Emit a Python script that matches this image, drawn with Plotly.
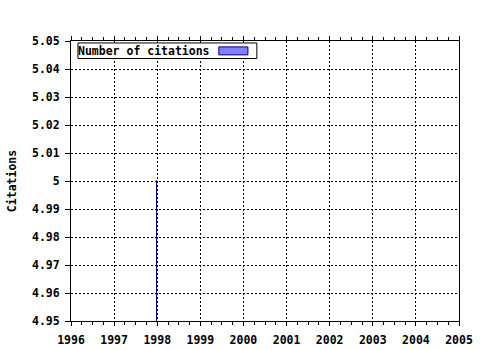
import plotly.graph_objects as go

years = [1998]
citations = [5]
x_ticks = [1996, 1997, 1998, 1999, 2000, 2001, 2002, 2003, 2004, 2005]
y_ticks = [4.95, 4.96, 4.97, 4.98, 4.99, 5.0, 5.01, 5.02, 5.03, 5.04, 5.05]
y_labels = ["4.95", "4.96", "4.97", "4.98", "4.99", "5", "5.01", "5.02", "5.03", "5.04", "5.05"]
series_name = "Number of citations"

FONT = dict(family="DejaVu Sans Mono", size=11.5, color="black", weight="bold")

fig = go.Figure()
fig.add_trace(go.Bar(
    x=years, y=citations, width=0.001, name=series_name,
    marker=dict(color="#000080", line=dict(color="#000080", width=1)),
    showlegend=False,
))

fig.update_layout(
    width=480, height=350,
    margin=dict(l=71, r=21, t=41, b=29, autoexpand=False),
    paper_bgcolor="white", plot_bgcolor="white",
    font=FONT,
    xaxis=dict(
        range=[1996, 2005], tickvals=x_ticks, ticktext=[str(v) for v in x_ticks],
        showline=True, linecolor="black", linewidth=1, mirror="ticks",
        ticks="outside", ticklen=4, tickcolor="black", ticklabelstandoff=4,
        showgrid=True, gridcolor="black", griddash="2px,2px", gridwidth=1,
        minor=dict(dtick=0.25, ticks="outside", ticklen=3, tickcolor="black", showgrid=False),
        zeroline=False, tickfont=FONT, automargin=False,
    ),
    yaxis=dict(
        range=[4.95, 5.05], tickvals=y_ticks, ticktext=y_labels,
        showline=True, linecolor="black", linewidth=1, mirror=True,
        ticks="outside", ticklen=5, tickcolor="black", ticklabelstandoff=3,
        showgrid=True, gridcolor="black", griddash="2px,2px", gridwidth=1,
        zeroline=False, tickfont=FONT, automargin=False,
        title=dict(text="Citations", font=FONT, standoff=12),
    ),
    bargap=0,
)

# legend box (text on the left, swatch on the right, as in the reference)
fig.add_shape(
    type="rect", xref="paper", yref="paper", layer="above",
    x0=0.018, x1=0.479, y0=0.9375, y1=0.993,
    fillcolor="white", line=dict(color="black", width=1),
)
fig.add_shape(
    type="rect", xref="paper", yref="paper", layer="above",
    x0=0.381, x1=0.456, y0=0.9505, y1=0.979,
    fillcolor="#7f7fff", line=dict(color="#000080", width=1),
)
fig.add_annotation(
    xref="paper", yref="paper", x=0.014, y=0.965, xanchor="left", yanchor="middle",
    text=series_name, showarrow=False, font=FONT, align="left",
)

fig.write_html("out.html")
